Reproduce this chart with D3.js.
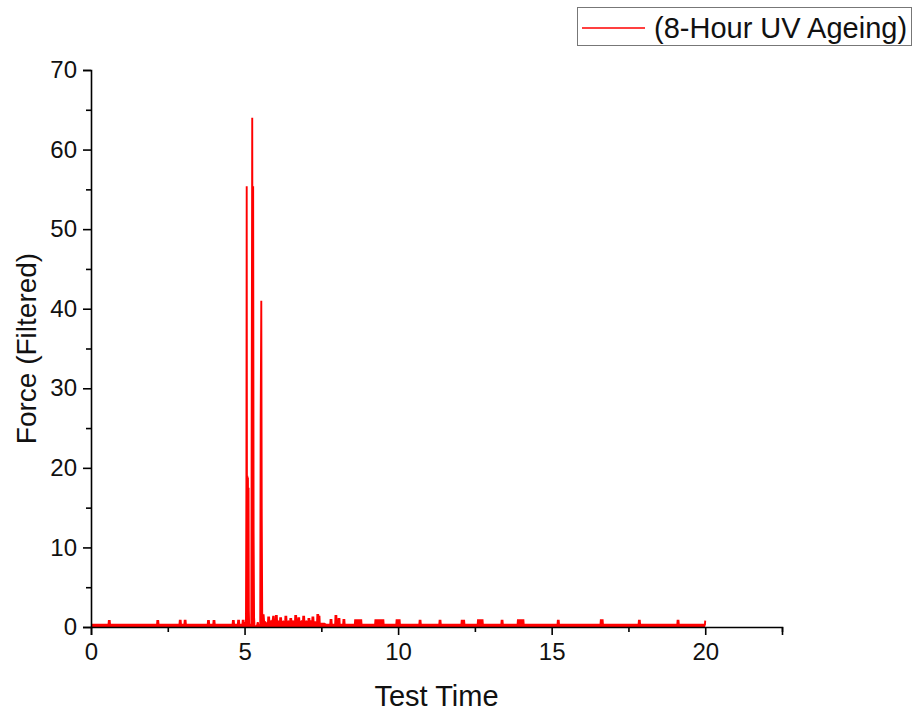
<!DOCTYPE html>
<html>
<head>
<meta charset="utf-8">
<script src="https://cdn.jsdelivr.net/npm/d3@7"></script>
<style>
  html, body { margin: 0; padding: 0; background: #fff; }
  svg { display: block; font-family: "Liberation Sans", Arial, sans-serif; }
</style>
</head>
<body>
<svg id="chart" width="916" height="713"></svg>
<script>
// Filtered force trace, [test time, force] pairs, split into three stretches.
const leadIn = [
  [0.00, 0.3], [0.57, 0.3], [0.58, 0.75], [0.61, 0.75], [0.62, 0.3],
  [2.15, 0.3], [2.16, 0.75], [2.19, 0.75], [2.20, 0.3],
  [2.88, 0.3], [2.89, 0.8], [2.92, 0.8], [2.93, 0.3],
  [3.04, 0.3], [3.05, 0.8], [3.08, 0.8], [3.09, 0.3],
  [3.80, 0.3], [3.81, 0.75], [3.84, 0.75], [3.85, 0.3],
  [3.98, 0.3], [3.99, 0.75], [4.02, 0.75], [4.03, 0.3],
  [4.61, 0.3], [4.62, 0.75], [4.65, 0.75], [4.66, 0.3],
  [4.78, 0.3], [4.79, 0.8], [4.82, 0.8], [4.83, 0.3],
  [4.93, 0.3], [4.94, 0.8], [4.97, 0.8], [4.98, 0.3]
];

const burst = [
  [5.01, 0.3], [5.03, 0.6], [5.045, 0.1], [5.06, 18.5], [5.07, 55.4],
  [5.08, 6.0], [5.09, 19.0], [5.10, 4.0], [5.11, 18.8], [5.12, 8.0],
  [5.13, 17.5], [5.14, 2.0], [5.15, 0.1], [5.19, 0.1], [5.20, 0.4],
  [5.22, 0.1], [5.235, 32.0], [5.25, 64.0], [5.265, 22.0], [5.28, 55.4],
  [5.295, 12.0], [5.31, 1.2], [5.325, 0.1], [5.40, 0.1], [5.43, 0.6],
  [5.46, 0.1], [5.51, 0.3], [5.525, 26.0], [5.545, 41.0], [5.56, 14.0],
  [5.575, 1.7], [5.60, 1.2], [5.62, 1.6], [5.64, 0.5]
];

const tail = [
  [5.68, 0.6], [5.72, 0.4], [5.76, 0.4], [5.77, 1.2], [5.80, 1.2], [5.81, 0.5],
  [5.86, 0.7], [5.90, 0.4], [5.93, 1.3], [5.95, 1.3], [5.96, 0.5],
  [6.01, 0.5], [6.02, 1.4], [6.05, 1.4], [6.06, 0.6], [6.10, 0.7],
  [6.15, 0.5], [6.16, 1.1], [6.19, 1.1], [6.20, 0.5], [6.26, 0.7],
  [6.32, 0.5], [6.33, 1.3], [6.36, 1.3], [6.37, 0.6], [6.43, 0.7],
  [6.48, 0.5], [6.49, 1.0], [6.52, 1.0], [6.53, 0.5], [6.58, 0.7],
  [6.64, 0.5], [6.65, 1.4], [6.68, 1.4], [6.69, 0.6], [6.74, 0.6],
  [6.75, 1.1], [6.78, 1.1], [6.79, 0.5], [6.85, 0.7],
  [6.90, 0.5], [6.91, 1.3], [6.94, 1.3], [6.95, 0.6], [7.01, 0.7],
  [7.07, 0.5], [7.08, 1.0], [7.11, 1.0], [7.12, 0.5], [7.16, 0.7],
  [7.20, 0.5], [7.21, 1.2], [7.24, 1.2], [7.25, 0.6], [7.31, 0.6],
  [7.36, 0.5], [7.37, 1.5], [7.40, 1.5], [7.41, 1.3], [7.44, 1.3], [7.45, 0.4],
  [7.60, 0.4], [7.65, 0.3], [7.79, 0.3], [7.80, 0.9], [7.83, 0.9], [7.84, 0.3],
  [7.95, 0.3], [7.96, 1.4], [7.99, 1.4], [8.00, 0.5], [8.05, 0.5],
  [8.06, 1.0], [8.09, 1.0], [8.10, 0.3],
  [8.21, 0.3], [8.22, 0.9], [8.25, 0.9], [8.26, 0.3],
  [8.59, 0.3], [8.60, 0.85], [8.80, 0.85], [8.81, 0.3],
  [9.25, 0.3], [9.26, 0.85], [9.52, 0.85], [9.53, 0.3],
  [9.94, 0.3], [9.95, 0.85], [10.05, 0.85], [10.06, 0.3],
  [10.69, 0.3], [10.70, 0.8], [10.73, 0.8], [10.74, 0.3],
  [11.34, 0.3], [11.35, 0.8], [11.38, 0.8], [11.39, 0.3],
  [12.06, 0.3], [12.07, 0.8], [12.09, 0.8], [12.10, 0.3],
  [12.12, 0.3], [12.13, 0.8], [12.15, 0.8], [12.16, 0.3],
  [12.59, 0.3], [12.60, 0.85], [12.75, 0.85], [12.76, 0.3],
  [13.36, 0.3], [13.37, 0.8], [13.40, 0.8], [13.41, 0.3],
  [13.89, 0.3], [13.90, 0.85], [14.08, 0.85], [14.09, 0.3],
  [15.19, 0.3], [15.20, 0.8], [15.23, 0.8], [15.24, 0.3],
  [16.59, 0.3], [16.60, 0.85], [16.66, 0.85], [16.67, 0.3],
  [17.83, 0.3], [17.84, 0.8], [17.87, 0.8], [17.88, 0.3],
  [19.09, 0.3], [19.10, 0.8], [19.13, 0.8], [19.14, 0.3],
  [19.99, 0.3], [20.00, 0.8]
];

const xTickValues = [0, 5, 10, 15, 20];
const xMinorValues = [2.5, 7.5, 12.5, 17.5, 22.5];
const yTickValues = [0, 10, 20, 30, 40, 50, 60, 70];
const yMinorValues = [5, 15, 25, 35, 45, 55, 65];
const seriesName = "(8-Hour UV Ageing)";
const xTitle = "Test Time";
const yTitle = "Force (Filtered)";

const trace = leadIn.concat(burst, tail);

const svg = d3.select("#chart");
const plot = { left: 91, right: 782, top: 70, bottom: 627 };

const x = d3.scaleLinear().domain([0, 22.5]).range([plot.left, plot.right]);
const y = d3.scaleLinear().domain([0, 70]).range([plot.bottom, plot.top]);

// the dense sampling reads as a solid red band, so shade under the trace
svg.append("path")
  .datum(trace)
  .attr("fill", "#ff0000")
  .attr("stroke", "none")
  .attr("d", d3.area().x(d => x(d[0])).y0(y(0)).y1(d => y(d[1])));

svg.append("path")
  .datum(trace)
  .attr("fill", "none")
  .attr("stroke", "#ff0000")
  .attr("stroke-width", 1.9)
  .attr("stroke-linejoin", "miter")
  .attr("d", d3.line().x(d => x(d[0])).y(d => y(d[1])));

// axes
const tickFont = "24px";
svg.append("g")
  .attr("transform", `translate(0,${plot.bottom})`)
  .call(d3.axisBottom(x).tickValues(xTickValues).tickSize(8).tickPadding(8).tickFormat(d3.format("d")));
svg.append("g")
  .attr("transform", `translate(0,${plot.bottom})`)
  .call(d3.axisBottom(x).tickValues(xMinorValues).tickSize(5).tickFormat(""))
  .call(g => g.select(".domain").remove());

svg.append("g")
  .attr("transform", `translate(${plot.left},0)`)
  .call(d3.axisLeft(y).tickValues(yTickValues).tickSize(8).tickPadding(6).tickFormat(d3.format("d")));
svg.append("g")
  .attr("transform", `translate(${plot.left},0)`)
  .call(d3.axisLeft(y).tickValues(yMinorValues).tickSize(5).tickFormat(""))
  .call(g => g.select(".domain").remove());

svg.selectAll(".domain").attr("stroke", "#000").attr("stroke-width", 1.6);
svg.selectAll(".tick line").attr("stroke", "#000").attr("stroke-width", 1.6);
svg.selectAll(".tick text")
  .attr("font-family", "Liberation Sans, Arial, sans-serif")
  .attr("font-size", tickFont)
  .attr("fill", "#111");

// axis titles
svg.append("text")
  .attr("x", (plot.left + plot.right) / 2)
  .attr("y", 706)
  .attr("text-anchor", "middle")
  .attr("font-size", "29px")
  .attr("fill", "#111")
  .text(xTitle);

svg.append("text")
  .attr("transform", `translate(36,${(plot.top + plot.bottom) / 2}) rotate(-90)`)
  .attr("text-anchor", "middle")
  .attr("font-size", "28px")
  .attr("fill", "#111")
  .text(yTitle);

// legend
const legend = svg.append("g");
legend.append("rect")
  .attr("x", 577.5).attr("y", 7.5)
  .attr("width", 334).attr("height", 38)
  .attr("fill", "#fff")
  .attr("stroke", "#777")
  .attr("stroke-width", 1);
legend.append("line")
  .attr("x1", 582).attr("x2", 645)
  .attr("y1", 28).attr("y2", 28)
  .attr("stroke", "#ff0000")
  .attr("stroke-width", 1.6);
legend.append("text")
  .attr("x", 654).attr("y", 38)
  .attr("font-size", "29px")
  .attr("fill", "#111")
  .text(seriesName);
</script>
</body>
</html>
